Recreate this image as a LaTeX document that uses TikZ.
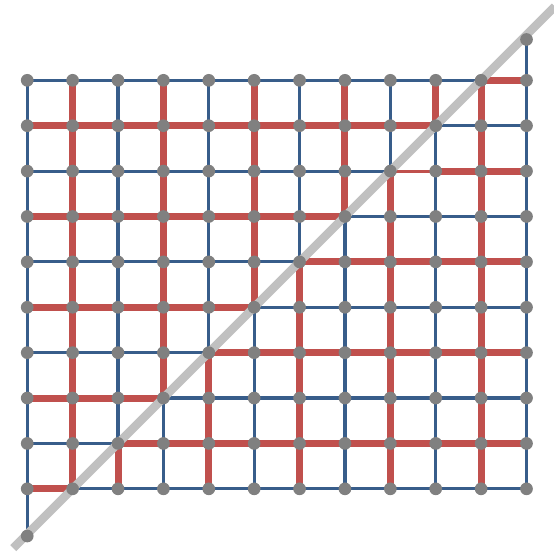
\documentclass[tikz,border=0pt]{standalone}
\usepackage{tikz}
\usetikzlibrary{backgrounds}
\definecolor{gridblue}{HTML}{385D8A}
\definecolor{pathred}{HTML}{C0504D}
\definecolor{dotgray}{HTML}{808080}
\definecolor{cutgray}{HTML}{C0C0C0}
\tikzset{
  vert/.style={circle, fill=dotgray, minimum size=2.8mm, inner sep=0pt},
  gridedge/.style={draw=gridblue, line width=2pt},
  pathedge/.style={draw=pathred, line width=4.4pt},
  thinpath/.style={draw=pathred, line width=2pt},
  cutline/.style={draw=cutgray, line width=5.3pt},
}

\begin{document}
\begin{tikzpicture}
    \useasboundingbox (-0.6,-1.48) rectangle (11.6,10.77);
    % vertices of the grid
    \foreach \c in {0,...,11}
      \foreach \r in {0,...,9}
        \node[vert] (n-\c-\r) at (\c,\r) {};
    \node[vert] (bl) at (0,-1.04) {};
    \node[vert] (tr) at (11,9.9) {};
    \begin{pgfonlayer}{background}
      % all grid edges
      \foreach \c/\d in {0/1, 1/2, 2/3, 3/4, 4/5, 5/6, 6/7, 7/8, 8/9, 9/10, 10/11}
        \foreach \r in {0,...,9}
          \draw[gridedge] (n-\c-\r.center) -- (n-\d-\r.center);
      \foreach \r/\s in {0/1, 1/2, 2/3, 3/4, 4/5, 5/6, 6/7, 7/8, 8/9}
        \foreach \c in {0,...,11}
          \draw[gridedge] (n-\c-\r.center) -- (n-\c-\s.center);
      \draw[gridedge] (bl.center) -- (n-0-0.center);
      \draw[gridedge] (tr.center) -- (n-11-9.center);
      % the red path: rows, then columns
      \foreach \r/\a/\b in {0/0/1, 1/2/11, 2/0/3, 3/4/11, 4/0/5,
                            5/6/11, 6/0/7, 7/9/11, 8/0/9, 9/10/11}
        \draw[pathedge] (n-\a-\r.center) -- (n-\b-\r.center);
      \draw[thinpath] (n-8-7.center) -- (n-9-7.center);
      \foreach \c/\a/\b in {1/0/9, 2/0/1, 3/2/9, 4/0/3, 5/4/9,
                            6/0/5, 7/6/9, 8/0/7, 9/8/9, 10/0/9}
        \draw[pathedge] (n-\c-\a.center) -- (n-\c-\b.center);
      % cut line along the diagonal
      \draw[cutline, shorten <=-1.85cm, shorten >=-2.3cm] (n-1-0.center) -- (n-10-9.center);
    \end{pgfonlayer}
  \end{tikzpicture}
\end{document}
